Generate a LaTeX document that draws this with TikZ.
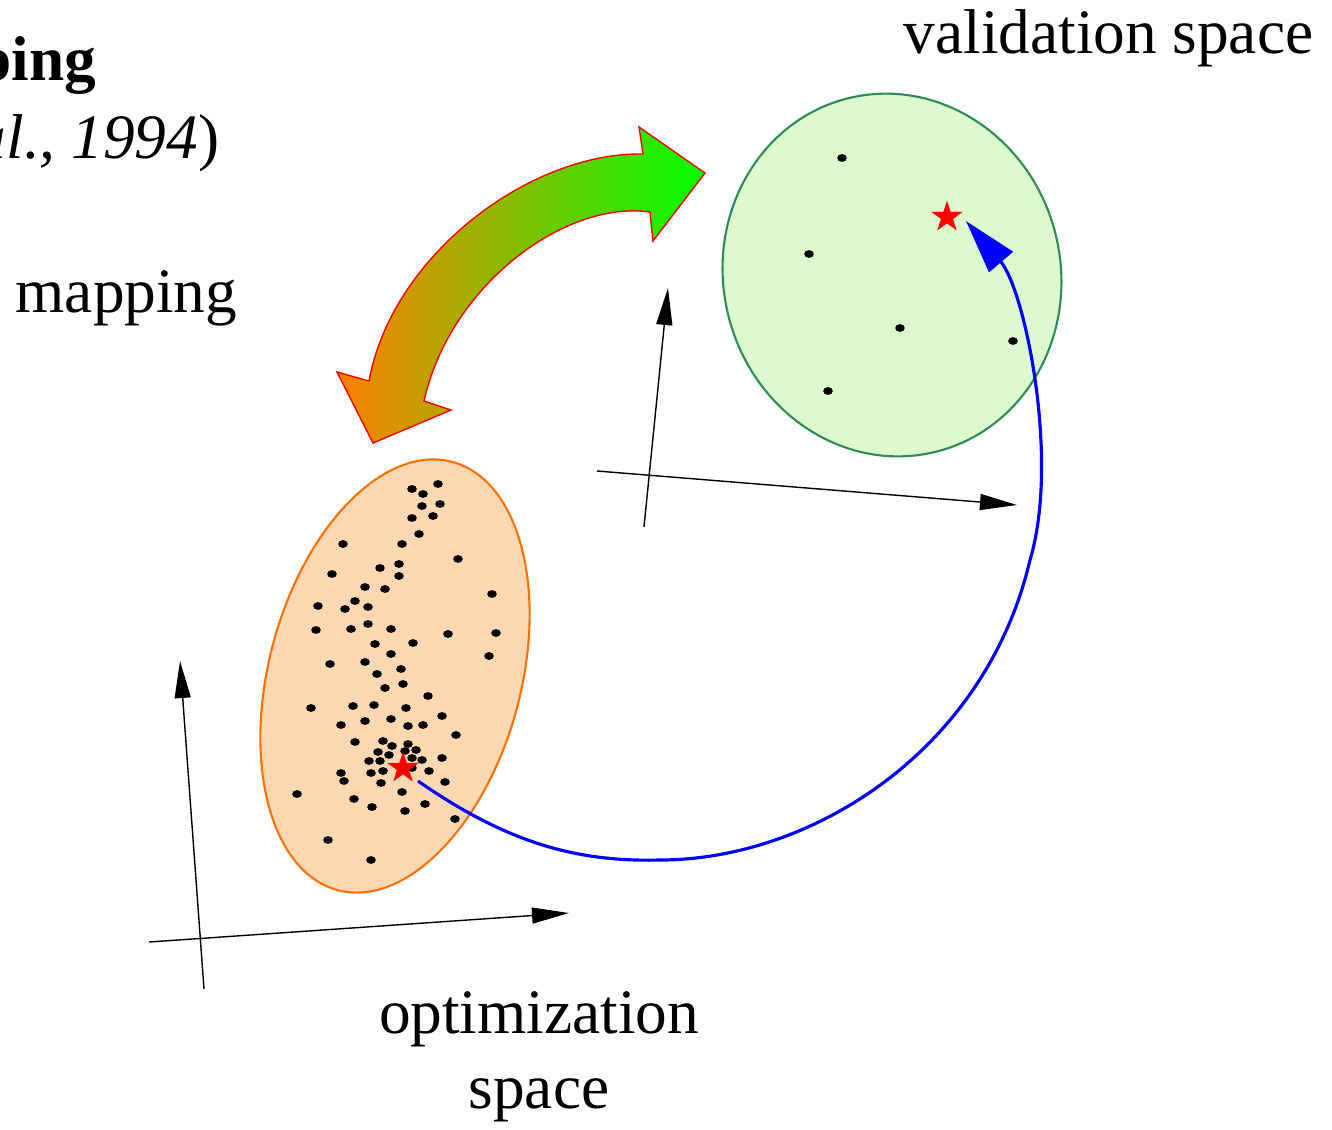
\documentclass[tikz,border=0pt]{standalone}
\usepackage{fontspec}
\setmainfont{Liberation Serif}
\usetikzlibrary{shapes.geometric, arrows.meta}

\definecolor{optfill}{RGB}{252,216,178}
\definecolor{optline}{RGB}{255,112,0}
\definecolor{valfill}{RGB}{220,250,206}
\definecolor{valline}{RGB}{46,139,87}
\definecolor{maporange}{RGB}{255,128,0}
\definecolor{mapgreen}{RGB}{0,255,0}

\begin{document}
\begin{tikzpicture}[
        x=0.01cm, y=-0.01cm,
        % Texto de las etiquetas
        spacelabel/.style={
                font=\fontsize{18}{21.3}\selectfont,
                inner sep=0pt
            },
        % Espacio de optimizacion
        optregion/.style={
                ellipse,
                draw=optline,
                line width=0.6pt,
                fill=optfill,
                minimum width=2.52cm,
                minimum height=4.43cm,
                inner sep=0pt,
                rotate=-15
            },
        % Espacio de validacion
        valregion/.style={
                ellipse,
                draw=valline,
                line width=0.6pt,
                fill=valfill,
                minimum width=3.37cm,
                minimum height=3.64cm,
                inner sep=0pt,
                rotate=14
            },
        % Punto optimo
        beststar/.style={
                star,
                star points=5,
                star point ratio=2.6,
                fill=red,
                minimum size=3.3mm,
                inner sep=0pt
            },
        % Ejes
        axis/.style={
                line width=0.4pt,
                -{Triangle[length=3.7mm, width=1.6mm]}
            },
        % Flecha azul
        link/.style={
                draw=blue,
                line width=0.9pt,
                -{Triangle[length=5.4mm, width=3.1mm]}
            },
        % Flecha doble del mapeo
        mapshade/.style={
                draw=red,
                line width=0.4pt,
                left color=maporange,
                right color=mapgreen
            }
    ]

    \useasboundingbox (0,0) rectangle (1332,1129);

    % EJES
    \coordinate (optxs) at (149,942);
    \coordinate (optxe) at (569,913);
    \coordinate (optys) at (204,989);
    \coordinate (optye) at (180,661);
    \coordinate (valxs) at (597,471);
    \coordinate (valxe) at (1017,505);
    \coordinate (valys) at (644,527);
    \coordinate (valye) at (668,288);
    \draw[axis] (optxs) -- (optxe);
    \draw[axis] (optys) -- (optye);
    \draw[axis] (valxs) -- (valxe);
    \draw[axis] (valys) -- (valye);

    % ESPACIOS
    \node[optregion] (optspace) at (395,676) {};
    \node[valregion] (valspace) at (892,275) {};

    % Muestras
    \foreach \x/\y in {412/489, 438/484, 423/494, 422/506, 440/504, 412/518, 433/516,
            419/534, 343/544, 402/544, 458/559, 380/568, 399/564, 399/576, 332/574,
            365/587, 385/589, 492/594, 318/606, 355/601, 345/609, 368/607, 316/630,
            351/629, 368/624, 391/629, 448/634, 496/633, 375/644, 413/643, 391/654,
            489/656, 330/664, 365/662, 377/674, 401/669, 385/688, 403/684, 428/696,
            311/708, 353/706, 374/705, 406/708, 391/719, 365/721, 341/725, 408/726,
            423/725, 442/716, 456/735, 355/742, 383/741, 392/746, 408/744, 416/750,
            378/752, 389/755, 405/751, 412/758, 422/760, 442/758, 369/761, 380/761,
            383/771, 371/773, 341/773, 429/771, 412/768, 344/781, 381/783, 445/782,
            297/794, 402/792, 354/799, 372/807, 405/811, 425/804, 455/819, 328/840,
            371/860,
            842/158, 809/254, 900/328, 1013/341, 828/391}
        \fill (\x,\y) ellipse [x radius=4.8, y radius=3.9];

    % Optimos
    \node[beststar] (optstar) at (403,768) {};
    \node[beststar] (valstar) at (947,217) {};

    \draw[link] ([shift={(15,13)}]optstar.center)
        .. controls (510,845) and (580,862) .. (660,860)
        .. controls (810,860) and (985,752) .. (1030,560)
        .. controls (1060,460) and (1025,290) .. ([shift={(19,4)}]valstar.center);

    % MAPEO
    \path[mapshade] (705,173) -- (639,127) -- (643,154)
        .. controls (530,152) and (392,255) .. (369,381)
        -- (337,372) -- (373,443) -- (451,410) -- (424,401)
        .. controls (450,285) and (565,200) .. (650,212)
        -- (653,241) -- cycle;

    % TEXTOS
    \node[spacelabel, anchor=base east] (titletext) at (97,80) {\textbf{ping}};
    \node[spacelabel, anchor=base east] (reftext) at (220,158) {\textit{al., 1994})};
    \node[spacelabel, anchor=base west] (maptext) at (15,312) {mapping};
    \node[spacelabel, anchor=base west] (valtext) at (903,53) {validation space};
    \node[spacelabel, align=center, anchor=base] (opttext) at (539,1108) {optimization\\space};

\end{tikzpicture}
\end{document}
